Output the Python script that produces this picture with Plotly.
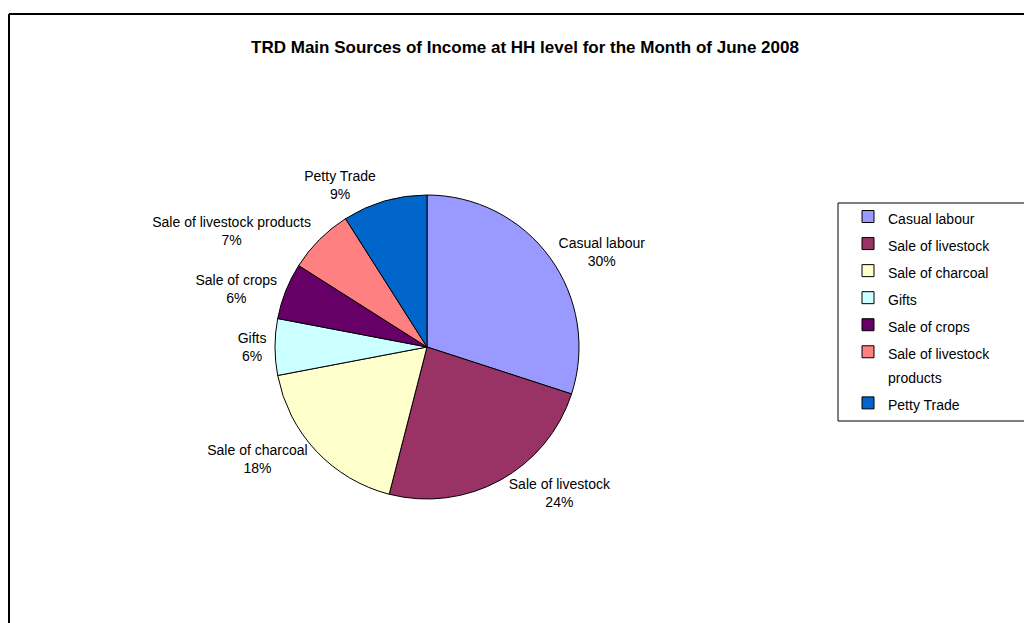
import plotly.graph_objects as go

labels = ["Casual labour", "Sale of livestock", "Sale of charcoal", "Gifts",
          "Sale of crops", "Sale of livestock products", "Petty Trade"]
legend_lines = [["Casual labour"], ["Sale of livestock"], ["Sale of charcoal"], ["Gifts"],
                ["Sale of crops"], ["Sale of livestock", "products"], ["Petty Trade"]]
values = [30, 24, 18, 6, 6, 7, 9]
colors = ["#9999FF", "#993366", "#FFFFCC", "#CCFFFF", "#660066", "#FF8080", "#0066CC"]
title = "TRD Main Sources of Income at HH level for the Month of June 2008"

W, H = 1024, 623
cx, cy, r = 427, 347, 152
FONT = "Liberation Sans, Arial"

legend_labels = ["<br>".join("<span style='font-size:14px'>%s</span>" % t for t in lines)
                 for lines in legend_lines]

fig = go.Figure(go.Pie(
    labels=legend_labels,
    values=values,
    customdata=labels,
    sort=False,
    direction="clockwise",
    rotation=0,
    marker=dict(colors=colors, line=dict(color="black", width=1)),
    textposition="outside",
    texttemplate="%{customdata}<br>%{percent:.0%}",
    textfont=dict(family=FONT, size=14, color="black"),
    domain=dict(x=[(cx - r) / W, (cx + r) / W], y=[1 - (cy + r) / H, 1 - (cy - r) / H]),
    hovertemplate="%{customdata}: %{percent:.0%}<extra></extra>",
))

fig.update_layout(
    width=W, height=H,
    margin=dict(l=0, r=0, t=0, b=0),
    paper_bgcolor="white",
    plot_bgcolor="white",
    font=dict(family=FONT, size=14, color="black"),
    title=dict(text="<b>" + title + "</b>", x=525 / W, xanchor="center",
               y=1 - 47 / H, yanchor="middle",
               font=dict(family=FONT, size=17, color="black")),
    showlegend=True,
    legend=dict(x=848 / W, y=1 - 198 / H, xanchor="left", yanchor="top",
                font=dict(family=FONT, size=18.5, color="black"),
                valign="top",
                bgcolor="rgba(0,0,0,0)", borderwidth=0, tracegroupgap=0),
    shapes=[
        dict(type="line", xref="paper", yref="paper", x0=9 / W, x1=1.0,
             y0=1 - 14 / H, y1=1 - 14 / H, line=dict(color="black", width=2)),
        dict(type="line", xref="paper", yref="paper", x0=9 / W, x1=9 / W,
             y0=0, y1=1 - 14 / H, line=dict(color="black", width=2)),
        dict(type="rect", xref="paper", yref="paper", x0=838 / W, x1=1030 / W,
             y0=1 - 421 / H, y1=1 - 203 / H, line=dict(color="black", width=1)),
    ],
)

fig.write_html("out.html")
